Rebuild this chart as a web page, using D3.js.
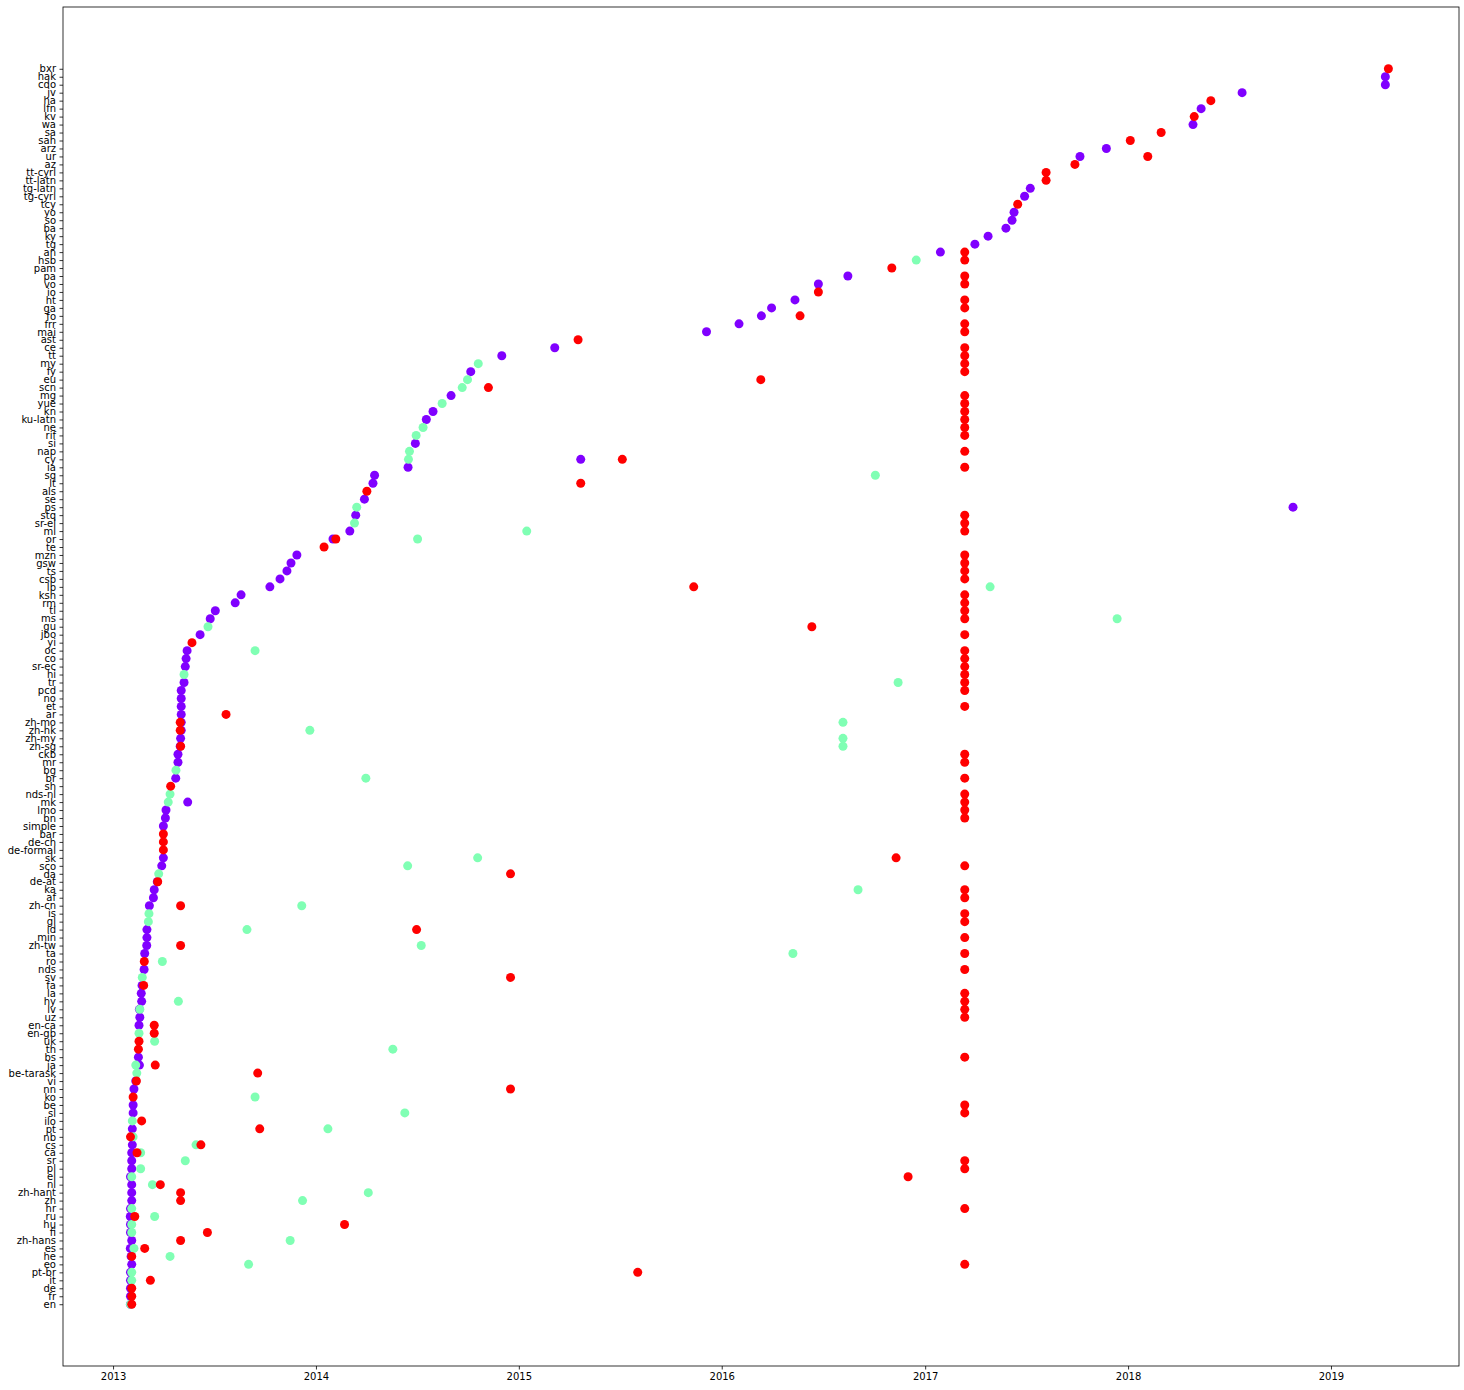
<!DOCTYPE html>
<html>
<head>
<meta charset="utf-8">
<script src="https://cdn.jsdelivr.net/npm/d3@7"></script>
<style>
  html, body { margin: 0; padding: 0; background: #fff; }
  svg text { font-family: "DejaVu Sans", sans-serif; }
</style>
</head>
<body>
<svg id="chart" width="1464" height="1390"></svg>
<script>
// Categories, bottom (index 0) to top
const categories = ["en","fr","de","it","pt-br","eo","he","es","zh-hans","fi","hu","ru","hr","zh","zh-hant","nl","el","pl","sr","ca","cs","nb","pt","ilo","sl","be","ko","nn","vi","be-tarask","ja","bs","th","uk","en-gb","en-ca","uz","lv","hy","la","fa","sv","nds","ro","ta","zh-tw","min","id","gl","is","zh-cn","af","ka","de-at","da","sco","sk","de-formal","de-ch","bar","simple","bn","lmo","mk","nds-nl","sh","br","bg","mr","ckb","zh-sg","zh-my","zh-hk","zh-mo","ar","et","no","pcd","tr","hi","sr-ec","co","oc","yi","jbo","gu","ms","tl","rm","ksh","lb","csb","ts","gsw","mzn","te","or","ml","sr-el","stq","ps","se","als","lt","sq","ia","cy","nap","si","rif","ne","ku-latn","kn","yue","mg","scn","eu","fy","my","tt","ce","ast","mai","frr","fo","ga","ht","io","vo","pa","pam","hsb","an","tg","ky","ba","so","yo","tcy","tg-cyrl","tg-latn","tt-latn","tt-cyrl","az","ur","arz","sah","sa","wa","kv","lfn","ha","jv","cdo","hak","bxr"];

// Series values: [category, date as decimal year]
const purpleSeries = [["en",2013.086],["fr",2013.086],["de",2013.086],["it",2013.086],["pt-br",2013.086],["eo",2013.092],["he",2013.089],["es",2013.085],["zh-hans",2013.092],["fi",2013.086],["hu",2013.086],["ru",2013.085],["hr",2013.086],["zh",2013.092],["zh-hant",2013.092],["nl",2013.092],["el",2013.086],["pl",2013.092],["sr",2013.092],["ca",2013.092],["cs",2013.095],["pt",2013.095],["sl",2013.099],["be",2013.099],["nn",2013.103],["vi",2013.112],["ja",2013.130],["bs",2013.125],["en-ca",2013.128],["uz",2013.132],["lv",2013.130],["hy",2013.141],["la",2013.139],["fa",2013.143],["nds",2013.153],["ta",2013.156],["zh-tw",2013.166],["min",2013.167],["id",2013.167],["zh-cn",2013.179],["af",2013.199],["ka",2013.203],["de-at",2013.218],["sco",2013.240],["sk",2013.248],["simple",2013.248],["bn",2013.258],["lmo",2013.261],["mk",2013.368],["br",2013.309],["mr",2013.320],["ckb",2013.320],["zh-sg",2013.331],["zh-my",2013.333],["zh-hk",2013.336],["zh-mo",2013.336],["ar",2013.336],["et",2013.336],["no",2013.336],["pcd",2013.336],["tr",2013.350],["sr-ec",2013.356],["co",2013.360],["oc",2013.365],["jbo",2013.429],["ms",2013.479],["tl",2013.504],["rm",2013.602],["ksh",2013.631],["lb",2013.773],["csb",2013.823],["ts",2013.857],["gsw",2013.877],["mzn",2013.906],["or",2014.084],["ml",2014.167],["stq",2014.196],["se",2014.239],["lt",2014.281],["sq",2014.289],["ia",2014.454],["cy",2015.305],["si",2014.490],["ku-latn",2014.544],["kn",2014.577],["mg",2014.666],["fy",2014.763],["tt",2014.916],["ce",2015.177],["mai",2015.925],["frr",2016.085],["fo",2016.195],["ga",2016.245],["ht",2016.360],["vo",2016.475],["pa",2016.620],["an",2017.075],["tg",2017.245],["ky",2017.310],["ba",2017.398],["so",2017.428],["yo",2017.438],["tg-cyrl",2017.490],["tg-latn",2017.518],["ur",2017.763],["arz",2017.893],["wa",2018.320],["lfn",2018.360],["jv",2018.562],["cdo",2019.268],["hak",2019.268],["ps",2018.813]];

const greenSeries = [["en",2013.086],["it",2013.092],["pt-br",2013.092],["eo",2013.668],["he",2013.281],["es",2013.103],["zh-hans",2013.873],["fi",2013.092],["hu",2013.092],["ru",2013.205],["hr",2013.092],["zh",2013.934],["zh-hant",2014.258],["nl",2013.194],["el",2013.092],["pl",2013.136],["sr",2013.356],["ca",2013.136],["cs",2013.409],["nb",2013.099],["pt",2014.059],["ilo",2013.095],["sl",2014.438],["ko",2013.700],["be-tarask",2013.117],["ja",2013.112],["th",2014.379],["uk",2013.205],["en-gb",2013.128],["lv",2013.132],["hy",2013.322],["sv",2013.144],["ro",2013.243],["ta",2016.350],["zh-tw",2014.519],["id",2013.660],["gl",2013.174],["is",2013.177],["zh-cn",2013.930],["ka",2016.670],["da",2013.225],["sco",2014.452],["sk",2014.797],["mk",2013.272],["nds-nl",2013.281],["br",2014.246],["bg",2013.310],["zh-sg",2016.596],["zh-my",2016.596],["zh-hk",2013.970],["zh-mo",2016.596],["tr",2016.867],["hi",2013.350],["oc",2013.700],["gu",2013.468],["ms",2017.946],["lb",2017.320],["sr-el",2014.190],["ps",2014.201],["ml",2015.039],["or",2014.501],["sq",2016.755],["cy",2014.456],["nap",2014.461],["rif",2014.494],["ne",2014.528],["yue",2014.622],["scn",2014.721],["eu",2014.747],["my",2014.800],["hsb",2016.956]];

const redSeries = [["en",2013.092],["fr",2013.092],["de",2013.092],["it",2013.184],["pt-br",2015.586],["eo",2017.195],["he",2013.092],["es",2013.156],["zh-hans",2013.333],["fi",2013.465],["hu",2014.141],["ru",2013.107],["hr",2017.195],["zh",2013.333],["zh-hant",2013.333],["nl",2013.233],["el",2016.916],["pl",2017.195],["sr",2017.195],["ca",2013.118],["cs",2013.433],["nb",2013.086],["pt",2013.723],["ilo",2013.141],["sl",2017.195],["be",2017.195],["ko",2013.099],["nn",2014.959],["vi",2013.115],["be-tarask",2013.713],["ja",2013.208],["bs",2017.195],["th",2013.125],["uk",2013.128],["en-gb",2013.203],["en-ca",2013.203],["uz",2017.195],["lv",2017.195],["hy",2017.195],["la",2017.195],["fa",2013.151],["sv",2014.959],["nds",2017.195],["ro",2013.154],["ta",2017.195],["zh-tw",2013.333],["min",2017.195],["id",2014.496],["gl",2017.195],["is",2017.195],["zh-cn",2013.333],["af",2017.195],["ka",2017.195],["de-at",2013.220],["da",2014.959],["sco",2017.195],["sk",2016.857],["de-formal",2013.248],["de-ch",2013.248],["bar",2013.248],["bn",2017.195],["lmo",2017.195],["mk",2017.195],["nds-nl",2017.195],["sh",2013.284],["br",2017.195],["mr",2017.195],["ckb",2017.195],["zh-sg",2013.333],["zh-hk",2013.331],["zh-mo",2013.331],["ar",2013.557],["et",2017.195],["pcd",2017.195],["tr",2017.195],["hi",2017.195],["sr-ec",2017.195],["co",2017.195],["oc",2017.195],["yi",2013.389],["jbo",2017.195],["gu",2016.443],["ms",2017.195],["tl",2017.195],["rm",2017.195],["ksh",2017.195],["lb",2015.862],["csb",2017.195],["ts",2017.195],["gsw",2017.195],["mzn",2017.195],["te",2014.040],["or",2014.098],["ml",2017.195],["sr-el",2017.195],["stq",2017.195],["als",2014.251],["lt",2015.305],["ia",2017.195],["cy",2015.510],["nap",2017.195],["rif",2017.195],["ne",2017.195],["ku-latn",2017.195],["kn",2017.195],["yue",2017.195],["mg",2017.195],["scn",2014.850],["eu",2016.192],["fy",2017.195],["my",2017.195],["tt",2017.195],["ce",2017.195],["ast",2015.292],["mai",2017.195],["frr",2017.195],["fo",2016.385],["ga",2017.195],["ht",2017.195],["io",2016.475],["vo",2017.195],["pa",2017.195],["pam",2016.836],["hsb",2017.195],["an",2017.195],["tcy",2017.456],["tt-latn",2017.596],["tt-cyrl",2017.596],["az",2017.738],["ur",2018.097],["sah",2018.011],["sa",2018.163],["kv",2018.326],["ha",2018.408],["bxr",2019.283]];

const xTickYears = [2013, 2014, 2015, 2016, 2017, 2018, 2019];
const seriesColors = ["#8000ff", "#80ffb4", "#ff0000"];

(function () {
  function yearToDate(v) {
    const yr = Math.floor(v);
    const start = new Date(yr, 0, 1).getTime();
    const end = new Date(yr + 1, 0, 1).getTime();
    return new Date(start + (v - yr) * (end - start));
  }

  const svg = d3.select("#chart");
  const mLeft = 63, mRight = 1459, mTop = 7, mBottom = 1366;

  const x = d3.scaleTime()
    .domain([yearToDate(2012.754), yearToDate(2019.631)])
    .range([mLeft, mRight]);

  const y = d3.scaleLinear()
    .domain([-7.75, categories.length - 1 + 7.75])
    .range([mBottom, mTop]);

  const catIndex = new Map(categories.map((c, i) => [c, i]));

  [purpleSeries, greenSeries, redSeries].forEach((series, si) => {
    svg.append("g")
      .selectAll("circle")
      .data(series)
      .join("circle")
      .attr("cx", d => x(yearToDate(d[1])))
      .attr("cy", d => y(catIndex.get(d[0])))
      .attr("r", 4.5)
      .attr("fill", seriesColors[si]);
  });

  const xAxis = d3.axisBottom(x)
    .tickValues(xTickYears.map(v => new Date(v, 0, 1)))
    .tickFormat(d3.timeFormat("%Y"))
    .tickSize(3.5)
    .tickPadding(3.5);

  const gx = svg.append("g")
    .attr("transform", `translate(0,${mBottom})`)
    .call(xAxis);
  gx.select(".domain").remove();
  gx.selectAll("text").attr("font-size", 10).attr("fill", "#000").style("font-family", "DejaVu Sans");
  gx.selectAll("line").attr("stroke", "#000").attr("stroke-width", 0.8);

  const yAxis = d3.axisLeft(y)
    .tickValues(d3.range(categories.length))
    .tickFormat(i => categories[i])
    .tickSize(3.5)
    .tickPadding(3.5);

  const gy = svg.append("g")
    .attr("transform", `translate(${mLeft},0)`)
    .call(yAxis);
  gy.select(".domain").remove();
  gy.selectAll("text").attr("font-size", 10).attr("fill", "#000").style("font-family", "DejaVu Sans");
  gy.selectAll("line").attr("stroke", "#000").attr("stroke-width", 0.8);

  svg.append("rect")
    .attr("x", mLeft).attr("y", mTop)
    .attr("width", mRight - mLeft).attr("height", mBottom - mTop)
    .attr("fill", "none")
    .attr("stroke", "#000")
    .attr("stroke-width", 0.8);
})();
</script>
</body>
</html>
